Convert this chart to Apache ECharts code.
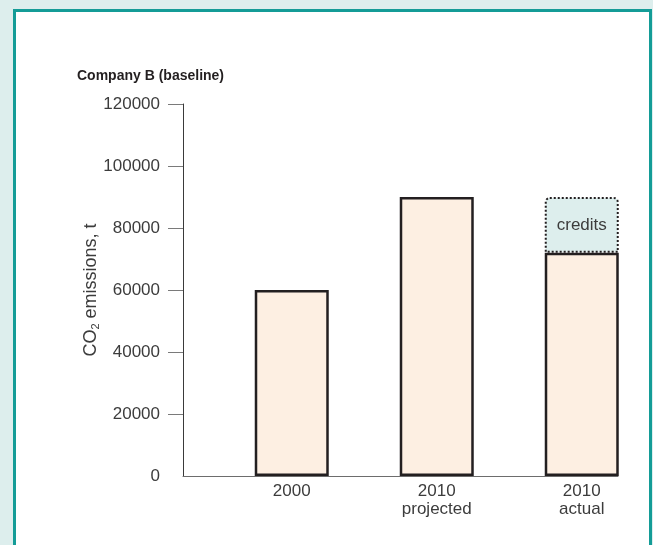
<!DOCTYPE html>
<html>
<head>
<meta charset="utf-8">
<script src="https://cdn.jsdelivr.net/npm/echarts@6/dist/echarts.min.js"></script>
<style>
  html, body { margin: 0; padding: 0; }
  #chart { width: 653px; height: 545px; }
</style>
</head>
<body>
<div id="chart"></div>
<script>
// CO2 emissions, company B baseline

const categories = ['2000', '2010\nprojected', '2010\nactual'];
const emissions = [60000, 90000, 72000];
const credits = [null, null, 18000];
const yTicks = [0, 20000, 40000, 60000, 80000, 100000, 120000];

// every category gets an empty slot on its left, so bars sit right of the band
const slots = [];
const emSlots = [];
const crSlots = [];
categories.forEach((c, i) => {
    slots.push('', c);
    emSlots.push(null, emissions[i]);
    crSlots.push(null, credits[i]);
});

const font = 'Liberation Sans, Arial, Helvetica, sans-serif';
const textColor = '#3c3c3c';

const option = {
    animation: false,
    textStyle: { fontFamily: font },
    graphic: [{
        type: 'rect',
        z: -10,
        silent: true,
        shape: { x: 0, y: 0, width: 653, height: 545 },
        style: { fill: '#ddeeed' }
    }, {
        type: 'rect',
        z: -9,
        silent: true,
        shape: { x: 14.5, y: 10.5, width: 636, height: 560 },
        style: { fill: '#ffffff', stroke: '#149c97', lineWidth: 3 }
    }],
    title: {
        text: 'Company B (baseline)',
        left: 72,
        top: 64,
        textStyle: { fontFamily: font, fontSize: 14, fontWeight: 'bold', color: '#231f20' }
    },
    grid: { left: 183, right: 35, top: 104, bottom: 69 },
    xAxis: {
        type: 'category',
        data: slots,
        axisLine: { lineStyle: { color: '#6d6d6d', width: 1 } },
        axisTick: { show: false },
        axisLabel: {
            interval: 0,
            margin: 6,
            fontSize: 17,
            lineHeight: 18,
            color: textColor,
            fontFamily: font
        }
    },
    yAxis: {
        type: 'value',
        min: 0,
        max: 120000,
        interval: 20000,
        name: '{a|CO}{s|2}{a| emissions, t}',
        nameLocation: 'middle',
        nameGap: 82,
        nameMoveOverlap: false,
        nameTextStyle: {
            rich: {
                a: { fontSize: 18, color: textColor, fontFamily: font },
                s: { fontSize: 11, color: textColor, fontFamily: font, verticalAlign: 'bottom', padding: [9, 0, 0, 0] }
            }
        },
        axisLine: { show: true, lineStyle: { color: '#3a3a3a', width: 1 } },
        axisTick: {
            show: true,
            length: 15,
            customValues: yTicks.slice(1),
            lineStyle: { color: '#7a7a7a', width: 1 }
        },
        axisLabel: {
            margin: 23,
            fontSize: 17,
            color: textColor,
            fontFamily: font,
            customValues: yTicks,
            formatter: v => String(v)
        },
        splitLine: { show: false }
    },
    series: [{
        name: 'emissions',
        type: 'bar',
        stack: 'total',
        data: emSlots,
        barWidth: 74,
        itemStyle: { color: '#fdefe2', borderColor: '#231f20', borderWidth: 2.5 }
    }, {
        name: 'credits',
        type: 'bar',
        stack: 'total',
        data: crSlots,
        barWidth: 74,
        itemStyle: {
            color: '#ddeeed',
            borderColor: '#231f20',
            borderWidth: 2,
            borderType: 'dotted',
            borderRadius: [4, 4, 0, 0]
        },
        label: {
            show: true,
            position: 'inside',
            formatter: 'credits',
            fontSize: 17,
            color: textColor,
            fontFamily: font
        }
    }]
};

const chart = echarts.init(document.getElementById('chart'));
chart.setOption(option);
</script>
</body>
</html>
